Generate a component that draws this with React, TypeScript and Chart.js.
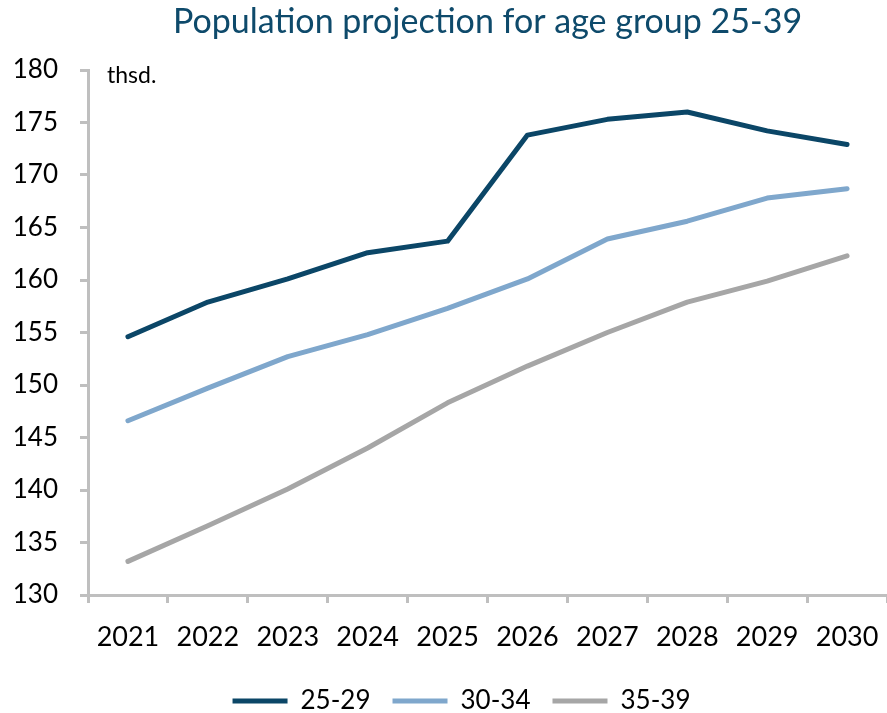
import React, { useEffect, useRef } from "react";
import { Chart, registerables } from "chart.js";

Chart.register(...registerables);

const title = "Population projection for age group 25-39";
const unitLabel = "thsd.";
const years = ["2021", "2022", "2023", "2024", "2025", "2026", "2027", "2028", "2029", "2030"];
const series2529 = [154.6, 157.9, 160.1, 162.6, 163.7, 173.8, 175.3, 176.0, 174.2, 172.9];
const series3034 = [146.6, 149.7, 152.7, 154.8, 157.3, 160.1, 163.9, 165.6, 167.8, 168.7];
const series3539 = [133.2, 136.6, 140.1, 144.0, 148.3, 151.8, 155.0, 157.9, 159.9, 162.3];
const seriesNames = ["25-29", "30-34", "35-39"];
const colors = ["#0b4667", "#7fa7cc", "#a6a6a6"];
const yMin = 130;
const yMax = 180;
const yStep = 5;

const FONT = "Lato, 'Open Sans', sans-serif";

const textPlugin = {
  id: "textPlugin",
  afterLayout(chart: any) {
    if (chart.legend) {
      chart.legend.left = 32;
    }
  },
  afterDraw(chart: any) {
    const { ctx, chartArea } = chart;
    ctx.save();
    ctx.fillStyle = "#0e4a6b";
    ctx.font = `34px ${FONT}`;
    ctx.textAlign = "center";
    ctx.textBaseline = "alphabetic";
    ctx.fillText(title, (chartArea.left + chartArea.right) / 2, 33);
    ctx.fillStyle = "#000000";
    ctx.font = `23px ${FONT}`;
    ctx.textAlign = "left";
    ctx.fillText(unitLabel, chartArea.left + 19, chartArea.top + 13);
    ctx.restore();
  },
};

export default function App() {
  const ref = useRef<HTMLCanvasElement>(null);
  useEffect(() => {
    if (!ref.current) return;
    const data = [series2529, series3034, series3539];
    const chart = new Chart(ref.current, {
      type: "line",
      data: {
        labels: years,
        datasets: seriesNames.map((name, i) => ({
          label: name,
          data: data[i],
          borderColor: colors[i],
          backgroundColor: colors[i],
          borderWidth: 5,
          pointRadius: 0,
          tension: 0,
          borderCapStyle: "round" as const,
          borderJoinStyle: "round" as const,
          fill: false,
        })),
      },
      options: {
        animation: false,
        responsive: false,
        devicePixelRatio: 1,
        layout: { padding: { left: 0, right: -4, top: 70, bottom: -11 } },
        plugins: {
          title: { display: false },
          tooltip: { enabled: false },
          legend: {
            position: "bottom",
            align: "center",
            labels: {
              usePointStyle: true,
              pointStyle: "line",
              pointStyleWidth: 55,
              padding: 22,
              color: "#000000",
              font: { family: FONT, size: 26, lineHeight: 1 },
            },
          },
        },
        scales: {
          x: {
            type: "category",
            offset: true,
            grid: {
              display: true,
              offset: true,
              drawOnChartArea: false,
              drawTicks: true,
              tickLength: 8,
              color: "#bfbfbf",
              lineWidth: 3,
            },
            border: { display: true, color: "#bfbfbf", width: 3 },
            ticks: {
              color: "#000000",
              font: { family: FONT, size: 27 },
              padding: 18,
              maxRotation: 0,
              autoSkip: false,
            },
            afterFit(scale: any) {
              scale.height = 71;
              scale.paddingLeft = 0;
              scale.paddingRight = 0;
            },
          },
          y: {
            min: yMin,
            max: yMax,
            grid: {
              display: true,
              drawOnChartArea: false,
              drawTicks: true,
              tickLength: 8,
              color: "#bfbfbf",
              lineWidth: 3,
            },
            border: { display: true, color: "#bfbfbf", width: 3 },
            ticks: {
              stepSize: yStep,
              color: "#000000",
              font: { family: FONT, size: 26 },
              padding: 22,
            },
            afterFit(scale: any) {
              scale.width = 88;
            },
          },
        },
      },
      plugins: [textPlugin],
    });
    return () => chart.destroy();
  }, []);
  return (
    <div style={{ position: "fixed", left: 0, top: 0, width: 887, height: 713, background: "#fff" }}>
      <canvas ref={ref} width={887} height={713} style={{ width: 887, height: 713 }} />
    </div>
  );
}
